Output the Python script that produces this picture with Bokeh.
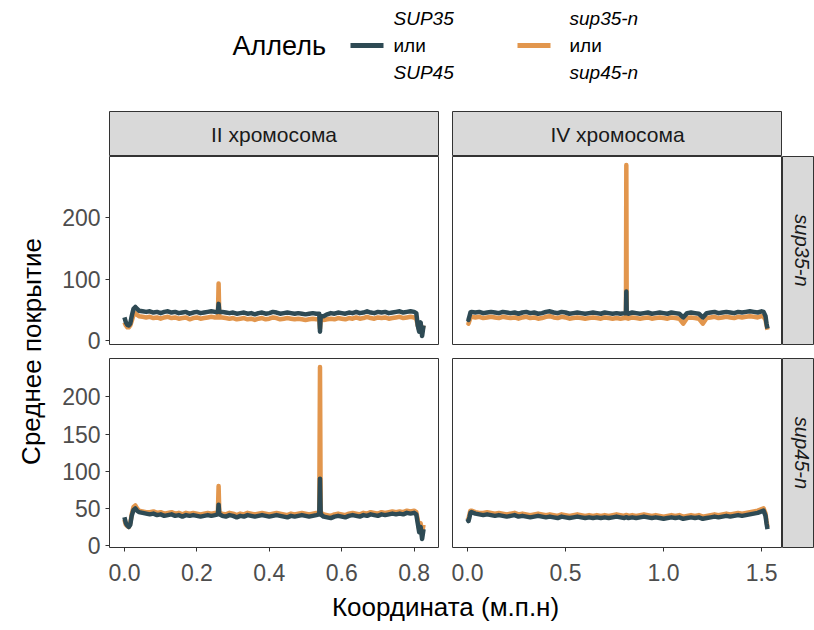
from bokeh.plotting import figure
from bokeh.layouts import row, column
from bokeh.models import Range1d, FixedTicker, NumeralTickFormatter, Spacer
from bokeh.core.properties import value
from bokeh.embed import file_html
from bokeh.resources import INLINE

FONT = "Liberation Sans"
DARK = "#2E4A54"
ORANGE = "#E2964D"
BORDER = "#333333"
STRIP_FILL = "#D9D9D9"

# ---------------- data ----------------
legend_title = "Аллель"
allele_labels = [["SUP35", "или", "SUP45"], ["sup35-n", "или", "sup45-n"]]
chrom_labels = ["II хромосома", "IV хромосома"]
row_labels = ["sup35-n", "sup45-n"]
x_title = "Координата (м.п.н)"
y_title = "Среднее покрытие"

chrII_x = [0.000, 0.004, 0.008, 0.012, 0.016, 0.020, 0.025, 0.030, 0.035, 0.040,
           0.050, 0.060, 0.070, 0.080, 0.090, 0.100, 0.110, 0.120, 0.130, 0.140,
           0.150, 0.160, 0.170, 0.180, 0.190, 0.200, 0.210, 0.220, 0.230, 0.240,
           0.250, 0.258, 0.260, 0.262, 0.270, 0.280, 0.290, 0.300, 0.310, 0.320,
           0.330, 0.340, 0.350, 0.360, 0.370, 0.380, 0.390, 0.400, 0.410, 0.420,
           0.430, 0.440, 0.450, 0.460, 0.470, 0.480, 0.490, 0.500, 0.510, 0.520,
           0.530, 0.538, 0.540, 0.542, 0.550, 0.560, 0.570, 0.580, 0.590, 0.600,
           0.610, 0.620, 0.630, 0.640, 0.650, 0.660, 0.670, 0.680, 0.690, 0.700,
           0.710, 0.720, 0.730, 0.740, 0.750, 0.760, 0.770, 0.780, 0.790, 0.800,
           0.806, 0.810, 0.814, 0.818, 0.822, 0.826]

# sup35-n row, chromosome II
sup35_chrII_wt = [38, 30, 26, 25, 28, 40, 52, 55, 52, 49,
                  48, 47, 48, 46, 47, 45, 47, 48, 46, 47,
                  45, 46, 47, 44, 46, 47, 45, 46, 47, 48,
                  47, 47, 60, 47, 47, 46, 45, 46, 44, 45,
                  46, 44, 45, 43, 45, 46, 44, 45, 47, 46,
                  44, 45, 46, 45, 44, 45, 44, 43, 44, 45,
                  44, 44, 15, 40, 40, 43, 45, 44, 46, 45,
                  44, 46, 45, 47, 45, 46, 48, 46, 45, 47,
                  46, 47, 45, 46, 47, 48, 46, 47, 48, 47,
                  45, 25, 15, 30, 8, 25]
sup35_chrII_mut = [30, 25, 22, 22, 25, 32, 42, 45, 42, 40,
                   39, 38, 39, 37, 38, 36, 38, 39, 37, 38,
                   36, 37, 38, 35, 37, 38, 36, 37, 38, 39,
                   38, 38, 93, 38, 38, 37, 36, 37, 35, 36,
                   37, 35, 36, 34, 36, 37, 35, 36, 38, 37,
                   35, 36, 37, 36, 35, 36, 35, 34, 35, 36,
                   35, 35, 20, 35, 34, 35, 36, 35, 37, 36,
                   35, 37, 36, 38, 36, 37, 39, 37, 36, 38,
                   37, 38, 36, 37, 38, 39, 37, 38, 39, 38,
                   36, 25, 18, 28, 15, 25]
# sup45-n row, chromosome II
sup45_chrII_wt = [38, 30, 27, 25, 28, 40, 48, 50, 47, 45,
                  44, 43, 42, 43, 41, 42, 40, 41, 42, 40,
                  41, 39, 41, 40, 41, 40, 39, 40, 41, 40,
                  41, 42, 55, 42, 40, 39, 41, 40, 38, 40,
                  39, 41, 40, 39, 40, 41, 40, 39, 40, 41,
                  40, 39, 38, 40, 39, 40, 41, 40, 39, 40,
                  41, 42, 90, 42, 39, 38, 37, 39, 40, 39,
                  38, 40, 41, 40, 39, 41, 40, 42, 41, 40,
                  42, 41, 42, 43, 42, 43, 42, 44, 43, 44,
                  42, 30, 18, 25, 9, 22]
sup45_chrII_mut = [35, 28, 26, 25, 30, 42, 52, 54, 50, 47,
                   46, 45, 45, 46, 44, 45, 43, 44, 45, 43,
                   44, 42, 44, 43, 44, 43, 42, 43, 44, 43,
                   44, 44, 80, 44, 43, 42, 44, 43, 41, 43,
                   42, 44, 43, 42, 43, 44, 43, 42, 43, 44,
                   43, 42, 41, 43, 42, 43, 44, 43, 42, 43,
                   44, 44, 240, 44, 42, 41, 40, 42, 43, 42,
                   41, 43, 44, 43, 42, 44, 43, 45, 44, 43,
                   45, 44, 45, 46, 45, 46, 45, 47, 46, 47,
                   45, 35, 22, 30, 18, 28]

chrIV_x = [0.000, 0.005, 0.010, 0.015,
           0.020, 0.040, 0.060, 0.080, 0.100, 0.120, 0.140, 0.160, 0.180, 0.200,
           0.220, 0.240, 0.260, 0.280, 0.300, 0.320, 0.340, 0.360, 0.380, 0.400,
           0.420, 0.440, 0.460, 0.480, 0.500, 0.520, 0.540, 0.560, 0.580, 0.600,
           0.620, 0.640, 0.660, 0.680, 0.700, 0.720, 0.740, 0.760, 0.780, 0.800,
           0.808, 0.810, 0.812,
           0.820, 0.840, 0.860, 0.880, 0.900, 0.920, 0.940, 0.960, 0.980, 1.000,
           1.020, 1.040, 1.060, 1.080, 1.100, 1.120, 1.140, 1.160, 1.180, 1.200,
           1.220, 1.240, 1.260, 1.280, 1.300, 1.320, 1.340, 1.360, 1.380, 1.400,
           1.420, 1.440, 1.460, 1.480, 1.500,
           1.510, 1.520, 1.525, 1.530]

sup35_chrIV_wt = [36, 34, 40, 46,
                  47, 46, 47, 45, 46, 47, 46, 45, 47, 46,
                  45, 46, 44, 46, 47, 45, 46, 44, 45, 47,
                  48, 46, 45, 47, 46, 44, 45, 46, 45, 44,
                  45, 46, 45, 44, 46, 45, 44, 45, 44, 45,
                  45, 80, 45,
                  44, 46, 45, 44, 45, 46, 44, 45, 46, 45,
                  44, 46, 45, 44, 38, 45, 46, 45, 44, 38,
                  45, 46, 47, 45, 46, 47, 46, 45, 47, 46,
                  47, 48, 47, 46, 48,
                  47, 40, 28, 20]
sup35_chrIV_mut = [30, 28, 33, 38,
                   39, 38, 39, 37, 38, 39, 38, 37, 39, 38,
                   37, 38, 36, 38, 39, 37, 38, 36, 37, 39,
                   40, 38, 37, 39, 38, 36, 37, 38, 37, 36,
                   37, 38, 37, 36, 38, 37, 36, 37, 36, 37,
                   37, 285, 37,
                   36, 38, 37, 36, 37, 38, 36, 37, 38, 37,
                   36, 38, 37, 36, 28, 37, 38, 37, 36, 28,
                   37, 38, 39, 37, 38, 39, 38, 37, 39, 38,
                   39, 40, 39, 38, 40,
                   39, 34, 25, 18]
sup45_chrIV_wt = [36, 33, 38, 44,
                  45, 43, 42, 41, 42, 41, 40, 41, 40, 39,
                  40, 41, 39, 40, 39, 38, 39, 40, 39, 38,
                  39, 38, 37, 39, 38, 37, 38, 39, 38, 37,
                  38, 37, 38, 37, 38, 37, 38, 39, 38, 37,
                  38, 38, 38,
                  37, 38, 37, 38, 39, 38, 37, 38, 37, 36,
                  37, 38, 37, 38, 36, 37, 38, 37, 38, 36,
                  37, 38, 39, 38, 39, 40, 39, 40, 41, 40,
                  41, 42, 43, 44, 46,
                  47, 40, 30, 22]
sup45_chrIV_mut = [38, 36, 42, 47,
                   47, 45, 44, 44, 45, 44, 43, 44, 43, 42,
                   43, 44, 42, 43, 42, 41, 42, 43, 42, 41,
                   42, 41, 40, 42, 41, 40, 41, 42, 41, 40,
                   41, 40, 41, 40, 41, 40, 41, 42, 41, 40,
                   41, 41, 41,
                   40, 41, 40, 41, 42, 41, 40, 41, 40, 39,
                   40, 41, 40, 41, 39, 40, 41, 40, 41, 39,
                   40, 41, 42, 41, 42, 43, 42, 43, 44, 43,
                   44, 45, 46, 47, 49,
                   50, 43, 33, 25]

chrII_ticks = [0.0, 0.2, 0.4, 0.6, 0.8]
chrIV_ticks = [0.0, 0.5, 1.0, 1.5]
row1_yticks = [0, 100, 200]
row2_yticks = [0, 50, 100, 150, 200]


# ggplot-like 5% expansion of data ranges
def expand(lo, hi, f=0.05):
    d = hi - lo
    return (lo - f * d, hi + f * d)


row1_all = sup35_chrII_wt + sup35_chrII_mut + sup35_chrIV_wt + sup35_chrIV_mut
row2_all = sup45_chrII_wt + sup45_chrII_mut + sup45_chrIV_wt + sup45_chrIV_mut
xr_II = expand(min(chrII_x), max(chrII_x))
xr_IV = expand(min(chrIV_x), max(chrIV_x))
yr_row1 = expand(min(row1_all), max(row1_all))
yr_row2 = expand(min(row2_all), max(row2_all))

TICK_FS = "23px"
STRIP_FS = "21px"
TITLE_FS = "26px"
LW = 4.5


def base_fig(w, h, bl=0, br=0, bt=0, bb=0, xr=(0, 1), yr=(0, 1), xloc=None, yloc=None):
    p = figure(width=w, height=h, x_range=Range1d(*xr), y_range=Range1d(*yr),
               output_backend="svg", toolbar_location=None,
               x_axis_location=xloc, y_axis_location=yloc,
               min_border_left=bl, min_border_right=br,
               min_border_top=bt, min_border_bottom=bb)
    p.grid.visible = False
    p.outline_line_color = None
    p.background_fill_color = "white"
    p.border_fill_color = "white"
    return p


def style_axis(ax, ticks, standoff):
    ax.ticker = FixedTicker(ticks=ticks)
    ax.axis_line_color = None
    ax.major_tick_line_color = BORDER
    ax.major_tick_out = 4
    ax.major_tick_in = 0
    ax.minor_tick_line_color = None
    ax.major_label_text_font = FONT
    ax.major_label_text_font_size = TICK_FS
    ax.major_label_text_color = "#4D4D4D"
    ax.major_label_standoff = standoff


def panel(w, h, bl, br, bt, bb, xr, yr, xs, ymut, ywt, xticks=None, yticks=None):
    p = base_fig(w, h, bl, br, bt, bb, xr, yr,
                 xloc="below" if xticks else None, yloc="left" if yticks else None)
    p.outline_line_color = BORDER
    p.outline_line_width = 1
    p.line(xs, ymut, line_color=ORANGE, line_width=LW, line_join="round")
    p.line(xs, ywt, line_color=DARK, line_width=LW, line_join="round")
    if xticks:
        style_axis(p.xaxis[0], xticks, 12)
        p.xaxis[0].formatter = NumeralTickFormatter(format="0.0")
    if yticks:
        style_axis(p.yaxis[0], yticks, 5)
    return p


def top_strip(w, bl, br, label):
    p = base_fig(w, 46, bl, br, 1, 0)
    p.background_fill_color = STRIP_FILL
    p.outline_line_color = BORDER
    p.text(x=[0.5], y=[0.5], text=[label], text_align="center", text_baseline="middle",
           text_font=value(FONT), text_font_size=STRIP_FS, text_color="#1A1A1A")
    return p


def side_strip(h, bb, label):
    p = base_fig(32, h, 0, 0, 0, bb)
    p.background_fill_color = STRIP_FILL
    p.outline_line_color = BORDER
    p.text(x=[0.6], y=[0.5], text=[label], angle=-1.5707963, text_align="center",
           text_baseline="middle", text_font=value(FONT), text_font_size="20px",
           text_font_style="italic", text_color="#1A1A1A")
    return p


# ---------------- legend ----------------
leg = base_fig(814, 110, xr=(0, 814), yr=(0, 110))
leg.text(x=[232], y=[65], text=[legend_title], text_align="left", text_baseline="middle",
         text_font=value(FONT), text_font_size="27px", text_color="#000000")
key_x = [[350, 383], [517, 550]]
lab_x = [393, 569]
for i, col in enumerate([DARK, ORANGE]):
    leg.line(key_x[i], [65, 65], line_color=col, line_width=5)
    for j, (t, yy) in enumerate(zip(allele_labels[i], [92, 65, 38])):
        leg.text(x=[lab_x[i]], y=[yy], text=[t], text_align="left", text_baseline="middle",
                 text_font=value(FONT), text_font_size="19px",
                 text_font_style="normal" if j == 1 else "italic", text_color="#000000")

# ---------------- panels ----------------
BB2 = 44          # space under the bottom panels for the x tick labels
H2 = 189 + BB2
XT_H = 630 - 110 - 46 - 202 - H2

s1 = top_strip(389, 54, 6, chrom_labels[0])
s2 = top_strip(338, 8, 0, chrom_labels[1])

p11 = panel(389, 202, 54, 6, 0, 14, xr_II, yr_row1, chrII_x, sup35_chrII_mut, sup35_chrII_wt,
            yticks=row1_yticks)
p12 = panel(338, 202, 8, 0, 0, 14, xr_IV, yr_row1, chrIV_x, sup35_chrIV_mut, sup35_chrIV_wt)
r1 = side_strip(202, 14, row_labels[0])

p21 = panel(389, H2, 54, 6, 0, BB2, xr_II, yr_row2, chrII_x, sup45_chrII_mut, sup45_chrII_wt,
            xticks=chrII_ticks, yticks=row2_yticks)
p22 = panel(338, H2, 8, 0, 0, BB2, xr_IV, yr_row2, chrIV_x, sup45_chrIV_mut, sup45_chrIV_wt,
            xticks=chrIV_ticks)
r2 = side_strip(H2, BB2, row_labels[1])

# ---------------- y title ----------------
YT_H = 46 + 202 + H2
yt = base_fig(55, YT_H, xr=(0, 55), yr=(0, YT_H))
yt.text(x=[31], y=[YT_H - 241], text=[y_title], angle=1.5707963, text_align="center",
        text_baseline="middle", text_font=value(FONT), text_font_size=TITLE_FS,
        text_color="#000000")

# ---------------- x title ----------------
xt = base_fig(814, XT_H, xr=(0, 814), yr=(0, XT_H))
xt.text(x=[445], y=[630 - 606], text=[x_title], text_align="center", text_baseline="middle",
        text_font=value(FONT), text_font_size=TITLE_FS, text_color="#000000")

grid = column(row(s1, s2, Spacer(width=32, height=46)),
              row(p11, p12, r1),
              row(p21, p22, r2))
layout = column(leg, row(yt, grid), xt)

open("out.html", "w").write(file_html(layout, INLINE))
